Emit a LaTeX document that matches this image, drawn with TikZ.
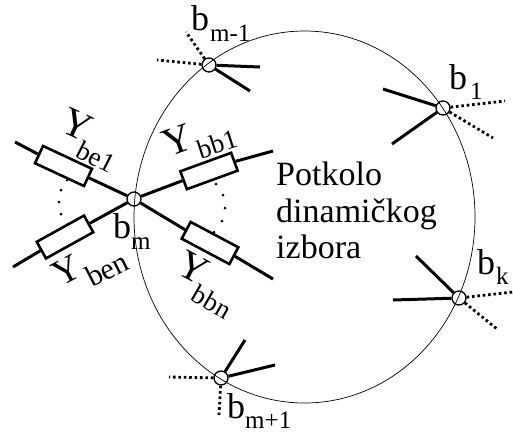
\documentclass[tikz,border=0pt]{standalone}
\usepackage{fontspec}
\setmainfont{Liberation Serif}
\tikzset{
  junction/.style={circle,draw,fill=white,line width=1.3pt,inner sep=0pt,minimum size=14pt},
  rbox/.style={rectangle,draw,fill=white,line width=2.6pt,inner sep=0pt,minimum width=54pt,minimum height=19pt},
  solidwire/.style={line width=3pt},
  dotwire/.style={line width=2.8pt,dash pattern=on 2.6pt off 2.8pt},
  arcdot/.style={circle,fill=black,inner sep=0pt,minimum size=3pt},
  big/.style={inner sep=0pt,font=\fontsize{40}{40}\selectfont},
  bl/.style={inner sep=0pt,anchor=base west,font=\fontsize{36}{36}\selectfont},
  sub/.style={inner sep=0pt,anchor=base west,font=\fontsize{25}{25}\selectfont},
  rsub/.style={inner sep=0pt,font=\fontsize{27}{27}\selectfont},
  body/.style={inner sep=0pt,anchor=base west,font=\fontsize{34}{34}\selectfont}
}
\begin{document}
\begin{tikzpicture}[x=1pt,y=-1pt]
\useasboundingbox (0,0) rectangle (513,432);
% junctions
\node[junction] (bm) at (134,199) {};
\node[junction] (jm1) at (209,65) {};
\node[junction] (j1) at (443,108) {};
\node[junction] (jk) at (459,298) {};
\node[junction] (jp1) at (221,378) {};
% admittance boxes
\node[rbox,rotate=-25] (be1) at (63.5,166) {};
\node[rbox,rotate=29] (ben) at (65,237) {};
\node[rbox,rotate=20] (bb1) at (209,171) {};
\node[rbox,rotate=-28] (bbn) at (210,243) {};
% free ends
\coordinate (a1) at (15,142);
\coordinate (a2) at (13,267);
\coordinate (a3) at (273,151);
\coordinate (a4) at (273,279);
\coordinate (m1a) at (260,67);
\coordinate (m1b) at (250,91);
\coordinate (m1c) at (157,60);
\coordinate (m1d) at (186,32);
\coordinate (o1a) at (383,89);
\coordinate (o1b) at (392,144);
\coordinate (o1c) at (505,101);
\coordinate (o1d) at (493,138);
\coordinate (ka) at (416,256);
\coordinate (kb) at (393,300);
\coordinate (kc) at (513,292);
\coordinate (kd) at (497,329);
\coordinate (pa) at (245,340);
\coordinate (pb) at (275,365);
\coordinate (pc) at (169,377);
\coordinate (pd) at (219,415);
% connectors
\draw[solidwire] (bm) -- (be1.east) (be1.west) -- (a1);
\draw[solidwire] (bm) -- (ben.east) (ben.west) -- (a2);
\draw[solidwire] (bm) -- (bb1.west) (bb1.east) -- (a3);
\draw[solidwire] (bm) -- (bbn.west) (bbn.east) -- (a4);
\draw[solidwire] (jm1) -- (m1a) (jm1) -- (m1b);
\draw[dotwire] (jm1) -- (m1c);
\draw[dotwire] (jm1) -- (m1d);
\draw[solidwire] (j1) -- (o1a) (j1) -- (o1b);
\draw[dotwire] (j1) -- (o1c);
\draw[dotwire] (j1) -- (o1d);
\draw[solidwire] (jk) -- (ka) (jk) -- (kb);
\draw[dotwire] (jk) -- (kc);
\draw[dotwire] (jk) -- (kd);
\draw[solidwire] (jp1) -- (pa) (jp1) -- (pb);
\draw[dotwire] (jp1) -- (pc);
\draw[dotwire] (jp1) -- (pd);
% dominant circle
\draw[line width=0.7pt] (304.5,217) ellipse [x radius=170.5, y radius=186];
% arc dots
\foreach \n/\x/\y in {l1/67/180,l2/61/190,l3/59/202,l4/61/214,l5/68/224,r1/216/184,r2/223/195,r3/225/208,r4/222/221,r5/214/232}
  \node[arcdot] (\n) at (\x,\y) {};
% labels on the admittances
\node[big,rotate=-25] (ty1) at (77,125) {Y};
\node[rsub,rotate=-27] (ts1) at (96,157) {be1};
\node[big,rotate=20] (ty2) at (178,140) {Y};
\node[rsub,rotate=18] (ts2) at (217,144) {bb1};
\node[big,rotate=28,font=\fontsize{37}{37}\selectfont] (ty3) at (67,271) {Y};
\node[rsub,rotate=27,font=\fontsize{30}{30}\selectfont] (ts3) at (107,269) {ben};
\node[big,rotate=-28] (ty4) at (193,268) {Y};
\node[rsub,rotate=-30] (ts4) at (212,302) {bbn};
% bus labels
\node[bl] (tb1) at (113,238) {b};
\node[sub] (ts5) at (131,249) {m};
\node[bl] (tb2) at (191,30) {b};
\node[sub] (ts6) at (210,41) {m-1};
\node[bl] (tb3) at (449,89) {b};
\node[sub] (ts7) at (470,99) {1};
\node[bl] (tb4) at (477,274) {b};
\node[sub] (ts8) at (496,284) {k};
\node[bl] (tb5) at (227,418) {b};
\node[sub] (ts9) at (245,428) {m+1};
% centre text
\node[body] (c1) at (276,185) {Potkolo};
\node[body] (c2) at (276,222) {dinamičkog};
\node[body] (c3) at (276,258) {izbora};
\end{tikzpicture}
\end{document}
